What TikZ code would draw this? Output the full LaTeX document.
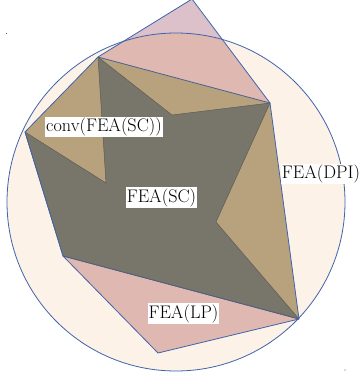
\documentclass[tikz,border=0pt]{standalone}
\begin{document}
\begin{tikzpicture}[x=1pt,y=-1pt,
  edge/.style={draw=blueline,line width=0.8pt,line join=round},
  inner/.style={draw=darkline,line width=0.5pt,line join=round},
  lab/.style={fill=white,inner sep=1pt,font=\fontsize{18.2}{20}\selectfont}]
\definecolor{peach}{HTML}{FDF2E8}
\definecolor{salmon}{HTML}{E0B8B2}
\definecolor{mauve}{HTML}{DCC0CA}
\definecolor{tan}{HTML}{B8A27E}
\definecolor{darkgray}{HTML}{78766A}
\definecolor{blueline}{HTML}{3E64AC}
\definecolor{darkline}{HTML}{5E5C54}
\useasboundingbox (0,0) rectangle (359,381);
\clip (0,0) rectangle (359,381);
% vertices
\coordinate (A) at (98,57);
\coordinate (B) at (25,132);
\coordinate (C) at (270,103);
\coordinate (D) at (299,319);
\coordinate (E) at (63,256);
\coordinate (F) at (158,353);
\coordinate (G) at (192,-1);
\coordinate (P) at (172,115);
\coordinate (Q) at (216,222);
\coordinate (R) at (106,183);
\coordinate (O) at (176,202);
% circle fill
\fill[peach] (O) circle (169);
% DPI triangle
\fill[mauve] (A) -- (G) -- (C) -- cycle;
\begin{scope}
  \clip (O) circle (169);
  \fill[salmon] (A) -- (G) -- (C) -- cycle;
\end{scope}
% LP triangle
\fill[salmon] (E) -- (F) -- (D) -- cycle;
% conv hull
\fill[tan] (A) -- (C) -- (D) -- (E) -- (B) -- cycle;
% SC
\filldraw[fill=darkgray,inner] (A) -- (P) -- (C) -- (Q) -- (D) -- (E) -- (B) -- (R) -- cycle;
% outlines
\draw[blueline,line width=0.8pt] (O) circle (169);
\draw[edge] (A) -- (G) -- (C);
\draw[edge,draw=blueline!70!darkline] (A) -- (C);
\draw[edge] (C) -- (D);
\draw[edge] (A) -- (B) -- (E);
\draw[edge,draw=blueline!60!darkline] (E) -- (D);
\draw[edge] (E) -- (F) -- (D);
\fill[blueline] (6.5,33.5) circle (0.6);
\fill[blueline] (345,370) circle (0.6);
% labels
\node[lab] (lconv) at (104,127) {conv(FEA(SC))};
\node[lab] (lsc) at (161.5,197.5) {FEA(SC)};
\node[lab] (ldpi) at (321,174) {FEA(DPI)};
\node[lab] (llp) at (183.5,313.5) {FEA(LP)};
\end{tikzpicture}
\end{document}
